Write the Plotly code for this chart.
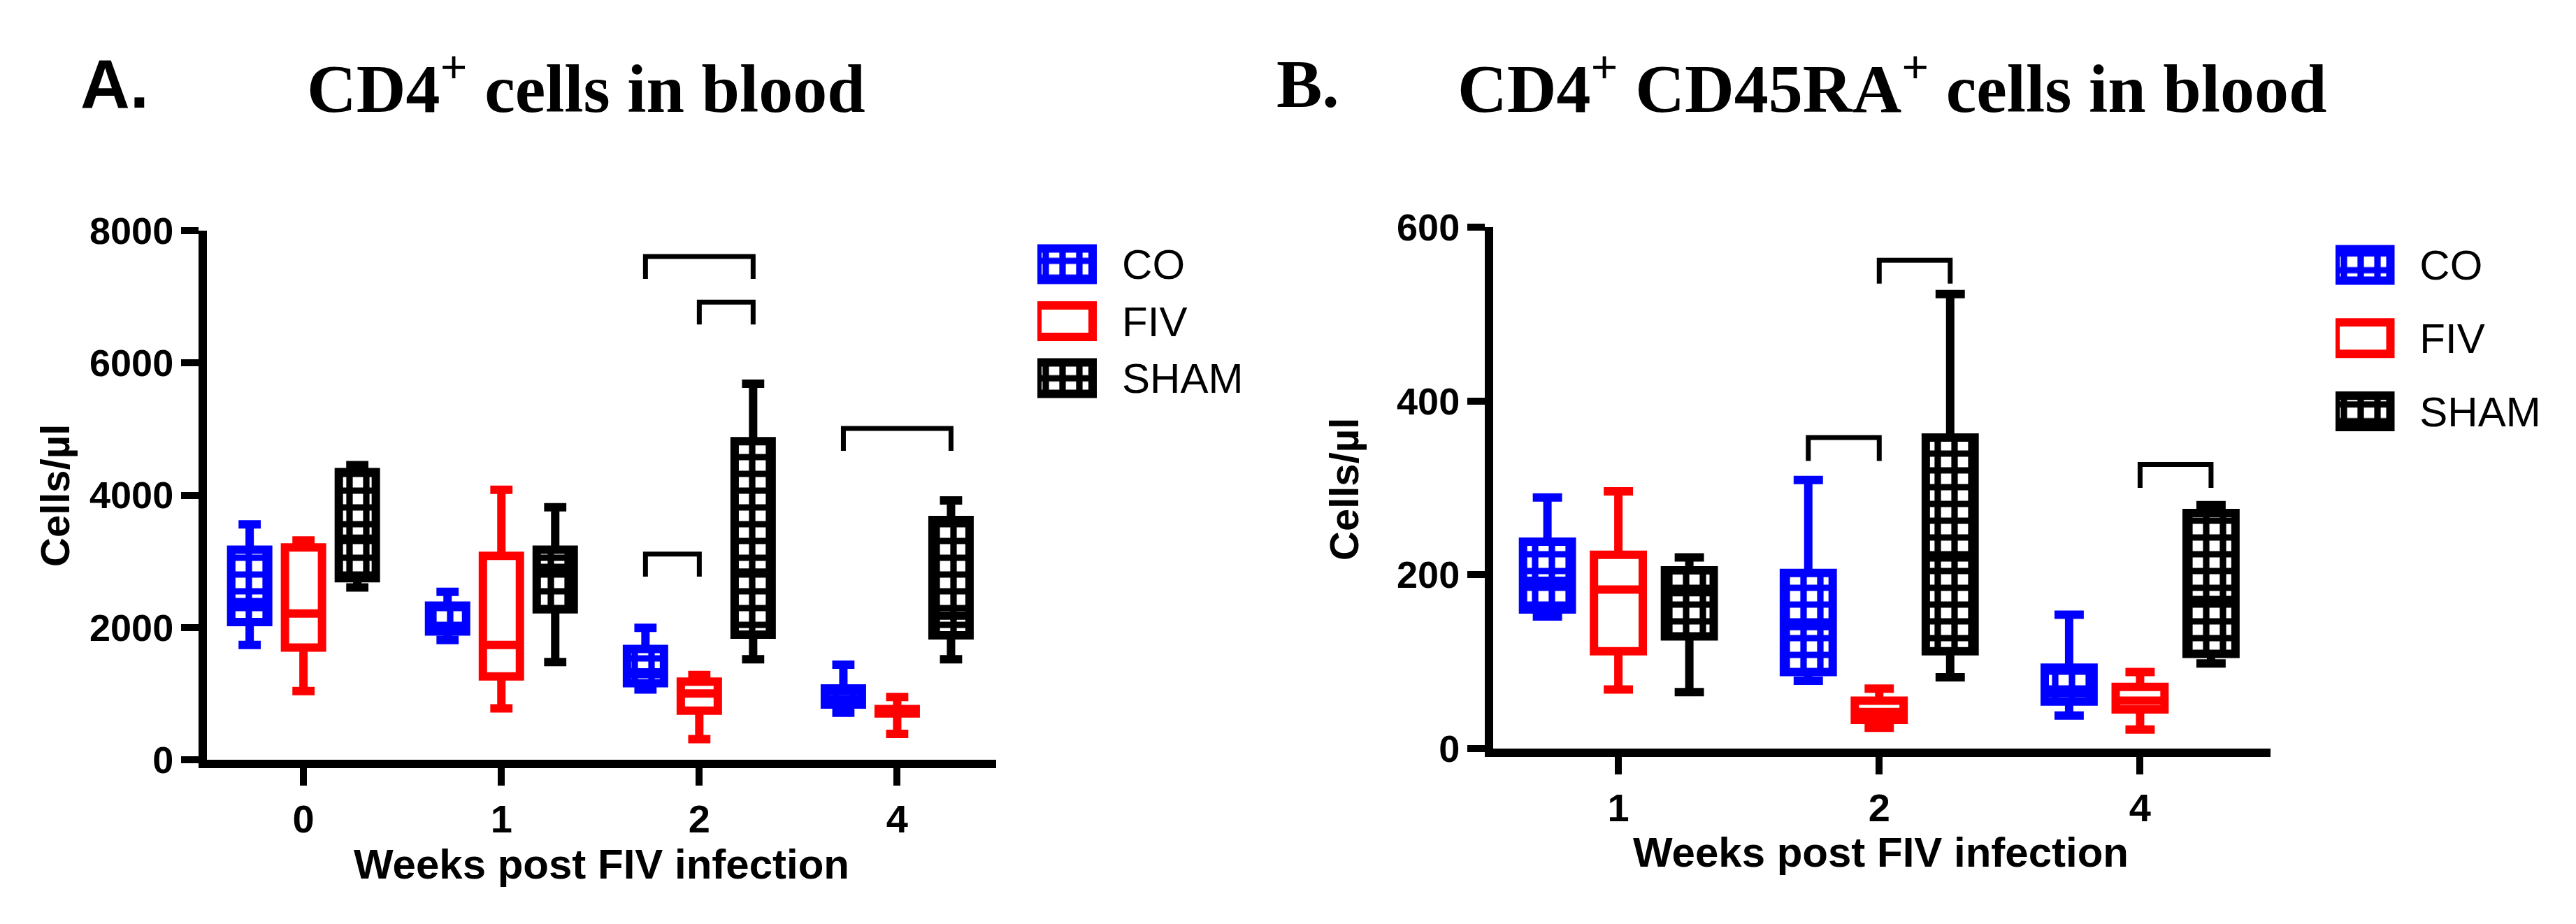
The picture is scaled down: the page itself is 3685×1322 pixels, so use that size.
import plotly.graph_objects as go

W, H = 3685, 1322
PAGE_PAD = 8  # default body margin of the html page

GROUPS = ["CO", "FIV", "SHAM"]
COLORS = {"CO": "#0000FF", "FIV": "#FF0000", "SHAM": "#000000"}
PATTERNED = {"CO": True, "FIV": False, "SHAM": True}

# ---------------- Panel A: CD4+ cells in blood (cells/µl) ----------------
A_WEEKS = ["0", "1", "2", "4"]
A_CO_LOW = [1736, 1810, 1063, 710]
A_CO_Q1 = [2083, 1940, 1156, 835]
A_CO_MED = [2383, 2000, 1322, 918]
A_CO_Q3 = [3175, 2331, 1674, 1078]
A_CO_HIGH = [3558, 2538, 1995, 1436]

A_FIV_LOW = [1037, 778, 312, 390]
A_FIV_Q1 = [1695, 1260, 742, 701]
A_FIV_MED = [2212, 1736, 1001, 726]
A_FIV_Q3 = [3211, 3082, 1182, 767]
A_FIV_HIGH = [3315, 4081, 1281, 949]

A_SHAM_LOW = [2606, 1477, 1519, 1519]
A_SHAM_Q1 = [2746, 2274, 1891, 1880]
A_SHAM_MED = [3341, 2901, 2830, 2180]
A_SHAM_Q3 = [4350, 3175, 4817, 3626]
A_SHAM_HIGH = [4454, 3817, 5686, 3921]

A_YTICKS = [0, 2000, 4000, 6000, 8000]
A_BR_WEEK = ["2", "2", "2", "4"]
A_BR_FROM = ["CO", "FIV", "CO", "CO"]
A_BR_TO = ["SHAM", "SHAM", "FIV", "SHAM"]
A_BR_Y = [7610, 6920, 3110, 5010]

# ---------------- Panel B: CD4+ CD45RA+ cells in blood ----------------
B_WEEKS = ["1", "2", "4"]
B_CO_LOW = [152, 78, 38]
B_CO_Q1 = [160, 88, 54]
B_CO_MED = [193, 141, 64]
B_CO_Q3 = [238, 202, 93]
B_CO_HIGH = [289, 309, 154]

B_FIV_LOW = [68, 24, 22]
B_FIV_Q1 = [112, 33, 45]
B_FIV_MED = [183, 42, 55]
B_FIV_Q3 = [223, 55, 71]
B_FIV_HIGH = [296, 69, 88]

B_SHAM_LOW = [65, 82, 98]
B_SHAM_Q1 = [129, 112, 109]
B_SHAM_MED = [180, 220, 171]
B_SHAM_Q3 = [205, 358, 271]
B_SHAM_HIGH = [220, 523, 280]

B_YTICKS = [0, 200, 400, 600]
B_BR_WEEK = ["2", "2", "4"]
B_BR_FROM = ["CO", "FIV", "FIV"]
B_BR_TO = ["FIV", "SHAM", "SHAM"]
B_BR_Y = [358, 562, 327]

# ---------------- style ----------------
SANS = "Liberation Sans, Arial, sans-serif"
SERIF = "Liberation Serif, Times New Roman, serif"
BOXGAP = 0.184
BOXGROUPGAP = 0.312
SLOT = (1 - BOXGAP) / len(GROUPS)
BOXW = SLOT * (1 - BOXGROUPGAP)
LW = 12


def px(x):
    return (x - PAGE_PAD) / W


def py(y):
    return 1 - (y - PAGE_PAD) / H


def pattern_for(g):
    if PATTERNED[g]:
        return dict(shape="+", fgcolor=COLORS[g], bgcolor="white",
                    size=24, solidity=0.62, fillmode="replace")
    return dict(shape="")


fig = go.Figure()


def add_panel(weeks, stats, brackets, br_drop, xa, ya, align):
    pos = list(range(len(weeks)))
    for i, g in enumerate(GROUPS):
        low, q1, med, q3, high = stats[g]
        shift = (i - (len(GROUPS) - 1) / 2) * SLOT
        # patterned body of the box
        fig.add_trace(go.Bar(
            x=pos, y=[b - a for a, b in zip(q1, q3)], base=q1,
            width=BOXW, offset=shift - BOXW / 2,
            marker=dict(color=COLORS[g] if PATTERNED[g] else "white",
                        line=dict(width=0), pattern=pattern_for(g)),
            xaxis=xa, yaxis=ya, showlegend=False, hoverinfo="skip"))
        fig.add_trace(go.Box(
            x=pos, q1=q1, median=med, q3=q3, lowerfence=low, upperfence=high,
            name=g, offsetgroup=g, alignmentgroup=align,
            line=dict(color=COLORS[g], width=LW), fillcolor="rgba(0,0,0,0)",
            whiskerwidth=0.6, boxpoints=False,
            xaxis=xa, yaxis=ya, showlegend=False, hoverinfo="skip"))
    wk, fr, to, yv = brackets
    for w, a, b, y in zip(wk, fr, to, yv):
        p = weeks.index(w)
        xa0 = p + (GROUPS.index(a) - 1) * SLOT
        xb0 = p + (GROUPS.index(b) - 1) * SLOT
        fig.add_trace(go.Scatter(
            x=[xa0, xa0, xb0, xb0], y=[y - br_drop, y, y, y - br_drop],
            mode="lines", line=dict(color="black", width=7),
            xaxis=xa, yaxis=ya, showlegend=False, hoverinfo="skip"))


def add_legend(xa, ya, barw):
    for g in GROUPS:
        fig.add_trace(go.Bar(
            y=[g], x=[1], base=0, orientation="h", width=barw,
            marker=dict(color=COLORS[g] if PATTERNED[g] else "white",
                        line=dict(color=COLORS[g], width=LW),
                        pattern=pattern_for(g)),
            xaxis=xa, yaxis=ya, showlegend=False, hoverinfo="skip"))


add_panel(A_WEEKS,
          {"CO": (A_CO_LOW, A_CO_Q1, A_CO_MED, A_CO_Q3, A_CO_HIGH),
           "FIV": (A_FIV_LOW, A_FIV_Q1, A_FIV_MED, A_FIV_Q3, A_FIV_HIGH),
           "SHAM": (A_SHAM_LOW, A_SHAM_Q1, A_SHAM_MED, A_SHAM_Q3, A_SHAM_HIGH)},
          (A_BR_WEEK, A_BR_FROM, A_BR_TO, A_BR_Y), 340, "x", "y", "A")
add_panel(B_WEEKS,
          {"CO": (B_CO_LOW, B_CO_Q1, B_CO_MED, B_CO_Q3, B_CO_HIGH),
           "FIV": (B_FIV_LOW, B_FIV_Q1, B_FIV_MED, B_FIV_Q3, B_FIV_HIGH),
           "SHAM": (B_SHAM_LOW, B_SHAM_Q1, B_SHAM_MED, B_SHAM_Q3, B_SHAM_HIGH)},
          (B_BR_WEEK, B_BR_FROM, B_BR_TO, B_BR_Y), 27, "x2", "y2", "B")
add_legend("x3", "y3", 0.552)
add_legend("x4", "y4", 0.429)

tickfont_y = dict(family=SANS, size=54, color="black", weight="bold")
tickfont_x = dict(family=SANS, size=56, color="black", weight="bold")
common_x = dict(showline=True, linewidth=LW, linecolor="black", ticks="outside",
                ticklen=25, tickwidth=10, tickcolor="black", tickfont=tickfont_x,
                showgrid=False, zeroline=False, fixedrange=True, automargin=False)
common_y = dict(showline=True, linewidth=LW, linecolor="black", ticks="outside",
                ticklen=25, tickwidth=10, tickcolor="black", tickfont=tickfont_y,
                showgrid=False, zeroline=False, fixedrange=True, automargin=False)

leg_x = dict(range=[0, 1.52], visible=False, fixedrange=True, automargin=False)
leg_y = dict(type="category", categoryorder="array", categoryarray=GROUPS,
             range=[2.5, -0.5], side="right", showline=False, ticks="",
             showgrid=False, zeroline=False, fixedrange=True, automargin=False,
             tickfont=dict(family=SANS, size=60, color="black"))

fig.update_layout(
    width=W, height=H,
    margin=dict(l=0, r=0, t=0, b=0, pad=0, autoexpand=False),
    paper_bgcolor="white", plot_bgcolor="white", showlegend=False,
    boxmode="group", boxgap=BOXGAP, boxgroupgap=BOXGROUPGAP, barmode="overlay",
    xaxis=dict(domain=[px(296), px(1425)], range=[-0.488, 3.5], anchor="y",
               tickmode="array", tickvals=list(range(len(A_WEEKS))),
               ticktext=A_WEEKS, **common_x),
    yaxis=dict(domain=[py(1087), py(330)], range=[0, 8000], anchor="x",
               tickmode="array", tickvals=A_YTICKS,
               ticktext=[str(v) for v in A_YTICKS], **common_y),
    xaxis2=dict(domain=[px(2136), px(3248)], range=[-0.48, 2.5], anchor="y2",
                tickmode="array", tickvals=list(range(len(B_WEEKS))),
                ticktext=B_WEEKS, **common_x),
    yaxis2=dict(domain=[py(1071), py(325)], range=[0, 600], anchor="x2",
                tickmode="array", tickvals=B_YTICKS,
                ticktext=[str(v) for v in B_YTICKS], **common_y),
    xaxis3=dict(domain=[px(1484), px(1484 + 79 * 1.52)], anchor="y3", **leg_x),
    yaxis3=dict(domain=[py(581.75), py(337.25)], anchor="x3", **leg_y),
    xaxis4=dict(domain=[px(3341), px(3341 + 78.5 * 1.52)], anchor="y4", **leg_x),
    yaxis4=dict(domain=[py(641), py(326.6)], anchor="x4", **leg_y),
)

ann = []
title_font_sans = dict(family=SANS, size=98, color="black", weight="bold")
title_font_serif = dict(family=SERIF, size=98, color="black", weight="bold")
ann.append(dict(text="A.", x=px(113), y=py(120), xanchor="left", yanchor="middle",
                font=title_font_sans))
ann.append(dict(text="CD4<sup>+</sup> cells in blood", x=px(437), y=py(120),
                xanchor="left", yanchor="middle", font=title_font_serif))
ann.append(dict(text="B.", x=px(1824), y=py(120), xanchor="left", yanchor="middle",
                font=title_font_serif))
ann.append(dict(text="CD4<sup>+</sup> CD45RA<sup>+</sup> cells in blood", x=px(2083),
                y=py(120), xanchor="left", yanchor="middle", font=title_font_serif))
axis_title_font = dict(family=SANS, size=60, color="black", weight="bold")
ann.append(dict(text="Weeks post FIV infection", x=px(860), y=py(1236),
                xanchor="center", yanchor="middle", font=axis_title_font))
ann.append(dict(text="Weeks post FIV infection", x=px(2690), y=py(1219),
                xanchor="center", yanchor="middle", font=axis_title_font))
ylab_font = dict(family=SANS, size=58, color="black", weight="bold")
ann.append(dict(text="Cells/µl", x=px(78), y=py(709), textangle=-90,
                xanchor="center", yanchor="middle", font=ylab_font))
ann.append(dict(text="Cells/µl", x=px(1922), y=py(700), textangle=-90,
                xanchor="center", yanchor="middle", font=ylab_font))
for a in ann:
    a.update(xref="paper", yref="paper", showarrow=False)
fig.update_layout(annotations=ann)

fig.write_html("out.html")
